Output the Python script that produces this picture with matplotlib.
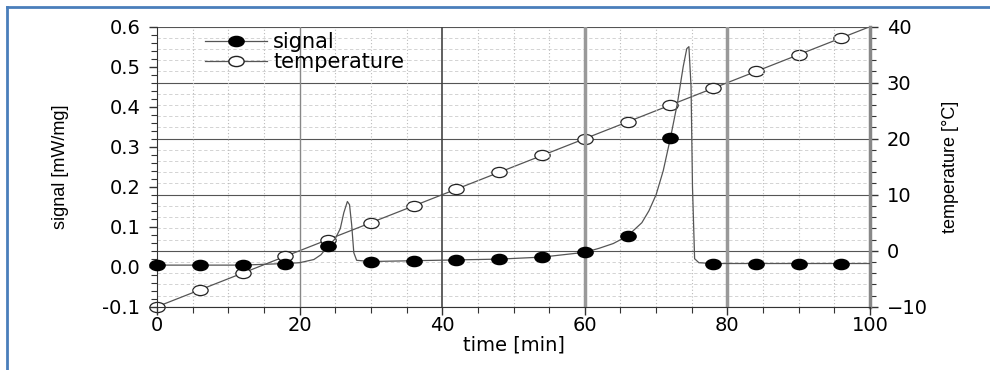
import matplotlib.pyplot as plt
import matplotlib.path as mpath
import matplotlib.transforms as mtrans
from matplotlib.lines import Line2D
from matplotlib.ticker import MultipleLocator

# marker samples (every 6 min)
t_pts = [0, 6, 12, 18, 24, 30, 36, 42, 48, 54, 60, 66, 72, 78, 84, 90, 96]
signal_pts = [0.004, 0.004, 0.004, 0.008, 0.052, 0.013, 0.015, 0.017, 0.019,
              0.024, 0.036, 0.077, 0.321, 0.008, 0.008, 0.008, 0.008]
temp_pts = [-10, -7, -4, -1, 2, 5, 8, 11, 14, 17, 20, 23, 26, 29, 32, 35, 38]

# continuous signal trace
t_curve = [0, 6, 12, 18, 20, 22, 23, 24, 25, 25.7, 26.2, 26.7, 27.0, 27.3, 27.6,
           28.0, 30, 36, 42, 48, 54, 60, 62, 64, 66, 68, 69, 70, 71, 72, 73,
           73.8, 74.3, 74.6, 74.9, 75.1, 75.4, 76, 78, 84, 90, 96, 100]
signal_curve = [0.004, 0.004, 0.004, 0.008, 0.010, 0.018, 0.030, 0.052, 0.070,
                0.095, 0.135, 0.163, 0.155, 0.105, 0.035, 0.016, 0.013, 0.015,
                0.017, 0.019, 0.024, 0.036, 0.046, 0.058, 0.077, 0.110, 0.140,
                0.180, 0.240, 0.321, 0.410, 0.500, 0.545, 0.550, 0.450, 0.200,
                0.020, 0.010, 0.008, 0.008, 0.008, 0.008, 0.008]
t_temp_line = t_pts + [100]
temp_line = temp_pts + [40]

# circles look squashed in the original
ell = mpath.Path.unit_circle().transformed(mtrans.Affine2D().scale(1.5, 1.0))

fig = plt.figure(figsize=(9.9, 3.7), dpi=100)
ax = fig.add_axes([0.1586, 0.171, 0.7202, 0.757])
ax2 = ax.twinx()
ax.set_zorder(ax2.get_zorder() + 1)
ax.patch.set_visible(False)

ax.set_xlim(0, 100)
ax.set_ylim(-0.1, 0.6)
ax2.set_ylim(-10, 40)

# grid
ax.xaxis.set_major_locator(MultipleLocator(20))
ax.xaxis.set_minor_locator(MultipleLocator(5))
ax.yaxis.set_major_locator(MultipleLocator(0.1))
ax.yaxis.set_minor_locator(MultipleLocator(0.02))
ax2.yaxis.set_major_locator(MultipleLocator(10))
ax2.yaxis.set_minor_locator(MultipleLocator(2))

ax.grid(True, axis='x', which='minor', color='#bbbbbb', lw=0.8, ls=(0, (1, 2)))
ax2.grid(True, axis='y', which='minor', color='#cccccc', lw=0.6, ls=(0, (4, 3)))
ax2.grid(True, axis='y', which='major', color='#555555', lw=0.8)
vstyle = {20: ('#888888', 1.0), 40: ('#444444', 1.2), 60: ('#999999', 2.5), 80: ('#999999', 2.5)}
for v, (c, w) in vstyle.items():
    ax.axvline(v, color=c, lw=w, zorder=0.5)

# data
ax2.plot(t_temp_line, temp_line, color='#555555', lw=0.9, zorder=2)
ax2.plot(t_pts, temp_pts, ls='none', marker=ell, ms=11, mfc='white',
         mec='#222222', mew=0.9, zorder=3, clip_on=False)
ax.plot(t_curve, signal_curve, color='#555555', lw=0.9, zorder=2)
ax.plot(t_pts, signal_pts, ls='none', marker=ell, ms=11, mfc='black',
        mec='black', zorder=3, clip_on=False)

# spines/ticks
ax.spines['top'].set_visible(False)
ax2.spines['top'].set_visible(False)
ax.spines['right'].set_visible(False)
ax2.spines['left'].set_visible(False)
ax2.spines['bottom'].set_visible(False)
ax.spines['left'].set_color('#333333')
ax.spines['bottom'].set_color('#333333')
ax2.spines['right'].set_color('#888888')
ax2.spines['right'].set_linewidth(2.5)

tickfont = 14
ax.tick_params(which='major', length=6, width=1, labelsize=tickfont, color='#333333')
ax.tick_params(which='minor', length=4, width=0.8, color='#333333')
ax.tick_params(axis='x', which='major', pad=1)
ax.tick_params(axis='y', which='major', pad=6)
ax2.tick_params(which='major', length=6, width=1, labelsize=tickfont, color='#333333', pad=6)
ax2.tick_params(which='minor', length=4, width=0.8, color='#333333')
ax.set_yticks([-0.1, 0.0, 0.1, 0.2, 0.3, 0.4, 0.5, 0.6])
ax.set_yticklabels(['-0.1', '0.0', '0.1', '0.2', '0.3', '0.4', '0.5', '0.6'])

ax.set_xlabel('time [min]', fontsize=14, labelpad=0)
ax.set_ylabel('signal [mW/mg]', fontsize=13, labelpad=24,
              family=['Liberation Sans Narrow', 'Liberation Sans', 'DejaVu Sans'])
ax2.set_ylabel('temperature [°C]', fontsize=13, labelpad=10,
               family=['Liberation Sans Narrow', 'Liberation Sans', 'DejaVu Sans'])

handles = [
    Line2D([], [], color='#555555', lw=0.9, marker=ell, ms=11, mfc='black', mec='black'),
    Line2D([], [], color='#555555', lw=0.9, marker=ell, ms=11, mfc='white', mec='#222222'),
]
ax.legend(handles, ['signal', 'temperature'], loc='upper left',
          bbox_to_anchor=(0.055, 1.01), frameon=False, fontsize=15,
          handlelength=3.0, handletextpad=0.3, labelspacing=0.0, borderaxespad=0)

# blue border of the original screenshot
fig.add_artist(Line2D([7 / 990, 7 / 990], [0, 1 - 7 / 370], color='#4a7ebb', lw=2))
fig.add_artist(Line2D([7 / 990, 1.01], [1 - 7 / 370, 1 - 7 / 370], color='#4a7ebb', lw=2))

fig.savefig('out.png', dpi=100)
